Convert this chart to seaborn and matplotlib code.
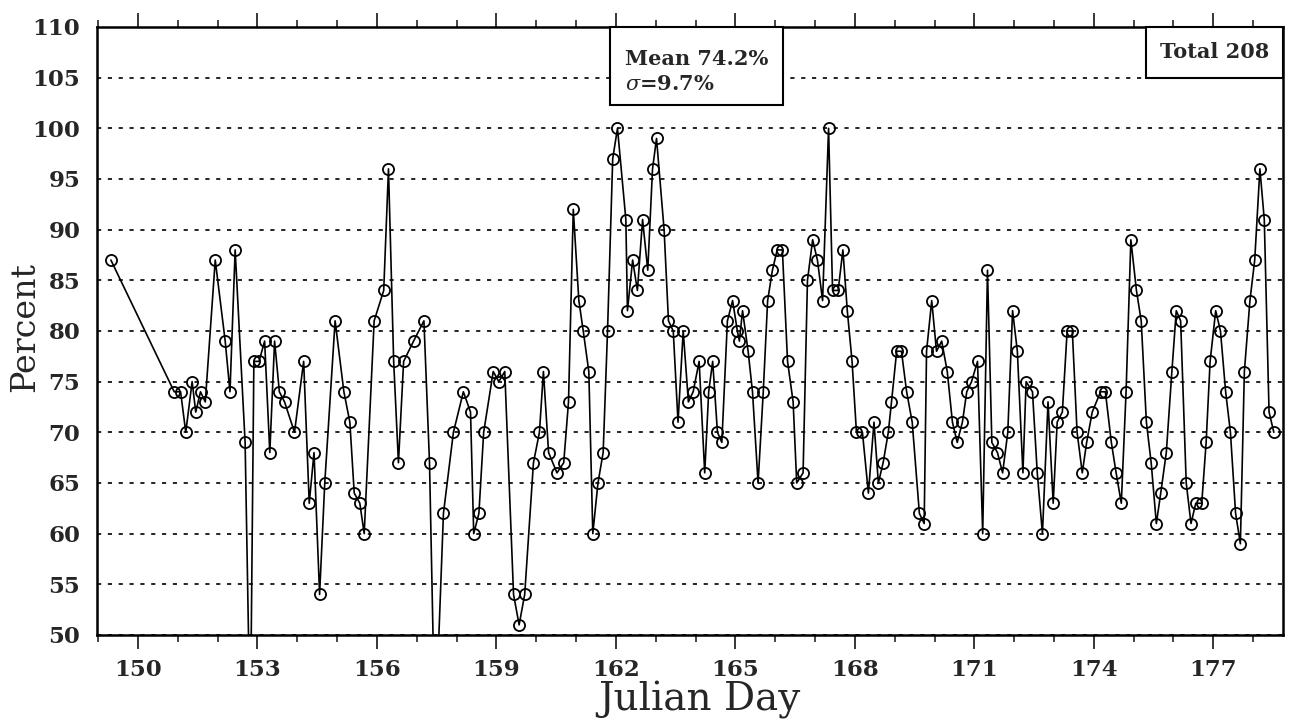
import numpy as np
import pandas as pd
import matplotlib
matplotlib.use("Agg")
import matplotlib.pyplot as plt
from matplotlib.patches import Rectangle
from matplotlib.ticker import MultipleLocator
import seaborn as sns

# 측정 데이터 (Julian Day, Percent) - 그림에서 읽은 값
days_a = [149.32, 150.91, 151.07, 151.20, 151.36, 151.45, 151.57, 151.69, 151.94, 152.19,
          152.31, 152.44, 152.69, 152.82, 152.91, 153.04, 153.18, 153.31, 153.43, 153.55,
          153.68, 153.93, 154.16, 154.30, 154.42, 154.56, 154.69, 154.95]
pct_a = [87, 74, 74, 70, 75, 72, 74, 73, 87, 79,
         74, 88, 69, 40, 77, 77, 79, 68, 79, 74,
         73, 70, 77, 63, 68, 54, 65, 81]

days_b = [155.17, 155.32, 155.43, 155.57, 155.68, 155.93, 156.17, 156.29, 156.42, 156.54,
          156.67, 156.92, 157.18, 157.32, 157.46, 157.67, 157.92, 158.17, 158.35, 158.43,
          158.56, 158.68, 158.92, 159.06, 159.21, 159.43, 159.57, 159.71, 159.93, 160.08,
          160.18, 160.31, 160.52, 160.69, 160.81, 160.93, 161.07, 161.18, 161.32, 161.42,
          161.55]
pct_b = [74, 71, 64, 63, 60, 81, 84, 96, 77, 67,
         77, 79, 81, 67, 40, 62, 70, 74, 72, 60,
         62, 70, 76, 75, 76, 54, 51, 54, 67, 70,
         76, 68, 66, 67, 73, 92, 83, 80, 76, 60,
         65]

days_c = [161.68, 161.79, 161.92, 162.04, 162.25, 162.29, 162.42, 162.54, 162.67, 162.80,
          162.92, 163.02, 163.21, 163.32, 163.44, 163.56, 163.69, 163.82, 163.94, 164.09,
          164.23, 164.33, 164.43, 164.55, 164.66, 164.80, 164.93, 165.05, 165.10, 165.18,
          165.32, 165.43, 165.57, 165.70, 165.81, 165.93, 166.05, 166.18, 166.31, 166.45,
          166.54, 166.70, 166.81, 166.94, 167.06, 167.19, 167.34, 167.44, 167.58, 167.70,
          167.81]
pct_c = [68, 80, 97, 100, 91, 82, 87, 84, 91, 86,
         96, 99, 90, 81, 80, 71, 80, 73, 74, 77,
         66, 74, 77, 70, 69, 81, 83, 80, 79, 82,
         78, 74, 65, 74, 83, 86, 88, 88, 77, 73,
         65, 66, 85, 89, 87, 83, 100, 84, 84, 88,
         82]

days_d = [167.93, 168.04, 168.19, 168.34, 168.48, 168.59, 168.71, 168.84, 168.92, 169.05,
          169.17, 169.30, 169.44, 169.62, 169.74, 169.80, 169.93, 170.05, 170.18, 170.32,
          170.45, 170.57, 170.70, 170.81, 170.93, 171.08, 171.21, 171.33, 171.44, 171.58,
          171.71, 171.84, 171.96, 172.08, 172.22, 172.30, 172.46, 172.58, 172.71, 172.85,
          172.98]
pct_d = [77, 70, 70, 64, 71, 65, 67, 70, 73, 78,
         78, 74, 71, 62, 61, 78, 83, 78, 79, 76,
         71, 69, 71, 74, 75, 77, 60, 86, 69, 68,
         66, 70, 82, 78, 66, 75, 74, 66, 60, 73,
         63]

days_e = [173.08, 173.21, 173.33, 173.46, 173.58, 173.71, 173.82, 173.96, 174.17, 174.29,
          174.44, 174.56, 174.69, 174.81, 174.93, 175.07, 175.19, 175.32, 175.44, 175.57,
          175.68, 175.82, 175.96, 176.07, 176.18, 176.32, 176.44, 176.56, 176.71, 176.82,
          176.92, 177.06, 177.18, 177.31, 177.43, 177.56, 177.68, 177.78, 177.92, 178.04,
          178.17, 178.28, 178.40, 178.52]
pct_e = [71, 72, 80, 80, 70, 66, 69, 72, 74, 74,
         69, 66, 63, 74, 89, 84, 81, 71, 67, 61,
         64, 68, 76, 82, 81, 65, 61, 63, 63, 69,
         77, 82, 80, 74, 70, 62, 59, 76, 83, 87,
         96, 91, 72, 70]

x_ticks = [150, 153, 156, 159, 162, 165, 168, 171, 174, 177]
y_ticks = list(range(50, 111, 5))
mean_text = "Mean 74.2%"
sigma_text = r"$\sigma$=9.7%"
total_text = "Total 208"

df = pd.DataFrame({
    "day": days_a + days_b + days_c + days_d + days_e,
    "pct": pct_a + pct_b + pct_c + pct_d + pct_e,
})

sns.set_style("white")
plt.rcParams['font.family'] = ['DejaVu Serif']
plt.rcParams['mathtext.fontset'] = 'dejavuserif'

fig = plt.figure(figsize=(12.91, 7.21), dpi=100)
ax = fig.add_axes([0.0751, 0.1193, 0.9187, 0.8433])

sns.lineplot(data=df, x="day", y="pct", ax=ax, estimator=None, sort=False,
             color="black", linewidth=1.2, marker="o", markersize=8,
             markerfacecolor="none", markeredgecolor="black", markeredgewidth=1.3)

ax.set_xlim(148.97, 178.75)
ax.set_ylim(50, 110)

# 축 눈금
ax.set_xticks(x_ticks)
ax.xaxis.set_minor_locator(MultipleLocator(1))
ax.set_yticks(y_ticks)
ax.tick_params(axis="x", which="major", direction="out", length=10, width=1.3,
               top=True, bottom=True, pad=7, labelsize=16.5)
ax.tick_params(axis="x", which="minor", direction="out", length=5, width=1.2,
               top=True, bottom=True)
ax.tick_params(axis="y", length=0, pad=12, labelsize=16.5)
for lab in ax.get_xticklabels() + ax.get_yticklabels():
    lab.set_fontweight("bold")

# 점선 그리드
ax.yaxis.grid(True, linestyle=(0, (2.5, 4)), color="black", linewidth=1.2)
ax.set_axisbelow(True)

for sp in ax.spines.values():
    sp.set_color("black")
    sp.set_linewidth(1.8)

ax.set_xlabel("Julian Day", fontsize=28, labelpad=0)
ax.xaxis.set_label_coords(0.5076, -0.075)
ax.set_ylabel("Percent", fontsize=24)
ax.yaxis.set_label_coords(-0.047, 0.507)

# 통계 박스
ax.add_patch(Rectangle((161.86, 102.3), 4.33, 7.7, facecolor="white", edgecolor="black",
                       linewidth=1.5, zorder=5, clip_on=False))
ax.text(162.23, 106.25, mean_text, fontsize=15, fontweight="bold",
        va="baseline", ha="left", zorder=6)
ax.text(162.23, 103.75, sigma_text, fontsize=15, fontweight="bold",
        va="baseline", ha="left", zorder=6)

ax.add_patch(Rectangle((175.3, 105), 3.45, 5, facecolor="white", edgecolor="black",
                       linewidth=1.5, zorder=5, clip_on=False))
ax.text(177.03, 107.5, total_text, fontsize=15, fontweight="bold",
        va="center", ha="center", zorder=6)

fig.savefig("out.png", dpi=100)
